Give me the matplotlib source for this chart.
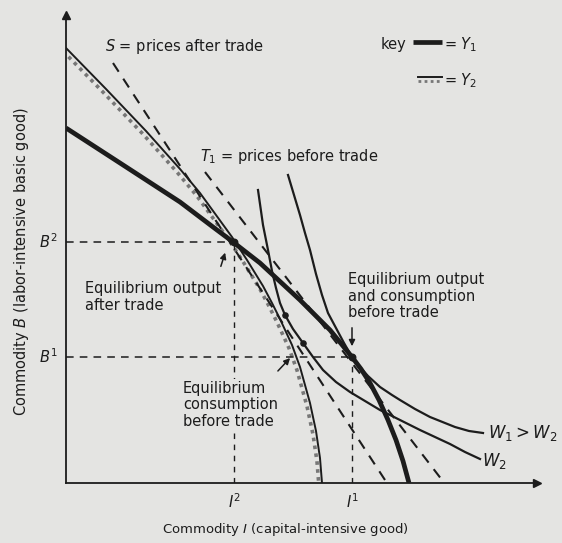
import matplotlib
matplotlib.use("Agg")
import matplotlib.pyplot as plt
import matplotlib.transforms as mtransforms

# 曲线数据
# Y1 生产可能性曲线（粗线）
y1_x = [0, 5.4, 11.4, 14.7, 16.7, 19.4, 23.4, 26.4, 28.6, 29.5, 30.4, 31.3, 32.2, 33.0, 33.7, 34.3]
y1_y = [35.5, 32.0, 28.1, 25.6, 24.1, 22.0, 18.3, 15.3, 12.6, 11.4, 10.0, 8.3, 6.3, 4.3, 2.2, 0]

# Y2 生产可能性曲线（细线 + 点）
y2_x = [0, 4.0, 8.0, 11.4, 13.4, 15.0, 16.6, 18.1, 19.7, 20.6, 21.4, 22.6, 23.4, 24.4, 25.0, 25.4, 25.6]
y2_y = [43.5, 39.4, 35.2, 31.4, 29.0, 26.8, 24.6, 22.3, 19.7, 18.0, 16.4, 13.8, 11.6, 8.0, 5.2, 2.5, 0]

# 无差异曲线
w1_x = [22.2, 22.8, 23.4, 23.9, 24.4, 25.0, 25.6, 26.2, 27.0, 27.8, 28.6, 29.3, 30.2, 31.4,
        32.6, 33.4, 34.9, 36.4, 38.9, 40.3, 41.7]
w1_y = [30.8, 28.8, 26.8, 25.0, 23.3, 20.9, 18.8, 17.0, 15.5, 14.0, 12.6, 11.7, 10.7, 9.6,
        8.8, 8.3, 7.4, 6.6, 5.6, 5.2, 5.0]
w2_x = [19.2, 19.7, 20.2, 20.6, 21.0, 21.4, 21.9, 22.7, 23.7, 24.7, 25.7, 27.0, 28.4, 29.9,
        31.4, 33.4, 35.4, 36.9, 38.4, 39.9, 41.4]
w2_y = [29.3, 25.8, 23.3, 21.2, 19.5, 18.0, 16.8, 15.4, 14.0, 12.6, 11.3, 10.1, 9.1, 8.2,
        7.3, 6.3, 5.3, 4.6, 3.9, 3.1, 2.4]

# 价格线
s_x = [4.7, 31.9]
s_y = [42.0, 0.3]
t1_x = [13.9, 37.6]
t1_y = [31.1, 0.3]

# 均衡点
b1, b2 = 12.6, 24.1
i1, i2 = 28.6, 16.8
dots_x = [21.9, 23.7]
dots_y = [16.8, 14.0]

bg = "#e4e4e2"
ink = "#1c1c1c"

fig = plt.figure(figsize=(5.62, 5.43), dpi=100, facecolor=bg)
ax = fig.add_axes([66 / 562, 60 / 543, (537 - 66) / 562, (483 - 15) / 543])
ax.set_facecolor(bg)
ax.set_xlim(0, 47.1)
ax.set_ylim(0, 46.8)

# 坐标轴
for side in ["top", "right"]:
    ax.spines[side].set_visible(False)
for side in ["left", "bottom"]:
    ax.spines[side].set_linewidth(1.3)
    ax.spines[side].set_color(ink)
ax.set_xticks([])
ax.set_yticks([])
ax.plot(1, 0, ">", color=ink, ms=6, transform=ax.get_yaxis_transform(), clip_on=False)
ax.plot(0, 1, "^", color=ink, ms=6, transform=ax.get_xaxis_transform(), clip_on=False)

# Y2 的点状阴影
shade = mtransforms.offset_copy(ax.transData, fig=fig, x=-2.2, y=-2.2, units="points")
ax.plot(y2_x, y2_y, ls=(0, (1, 1.2)), color="#777777", lw=2.6, transform=shade)
ax.plot(y2_x, y2_y, color=ink, lw=1.4)
ax.plot(y1_x, y1_y, color=ink, lw=3.4, solid_capstyle="butt")

ax.plot(w1_x, w1_y, color=ink, lw=1.6)
ax.plot(w2_x, w2_y, color=ink, lw=1.6)

ax.plot(s_x, s_y, color=ink, lw=1.5, ls=(0, (5, 4)))
ax.plot(t1_x, t1_y, color=ink, lw=1.5, ls=(0, (5, 4)))

# 参考虚线
ax.plot([0, i2], [b2, b2], color=ink, lw=1.1, ls=(0, (5, 4)))
ax.plot([i2, i2], [0, b2], color=ink, lw=1.0, ls=(0, (4, 4)))
ax.plot([0, i1], [b1, b1], color=ink, lw=1.1, ls=(0, (5, 4)))
ax.plot([i1, i1], [0, b1], color=ink, lw=1.0, ls=(0, (4, 4)))

ax.scatter([i2, i1], [b2, b1], s=22, color=ink, zorder=5)
ax.scatter(dots_x, dots_y, s=14, color=ink, zorder=5)

fs = 10.5
tkw = dict(color=ink, fontsize=fs, clip_on=False)

ax.text(3.9, 43.6, "$S$ = prices after trade", ha="left", va="center", **tkw)
ax.text(13.4, 32.6, "$T_1$ = prices before trade", ha="left", va="center", **tkw)

# 图例
ax.text(31.5, 43.8, "key", ha="left", va="center", **tkw)
ax.plot([34.7, 37.6], [44.1, 44.1], color=ink, lw=3.4, solid_capstyle="butt")
ax.text(37.8, 43.8, "= $Y_1$", ha="left", va="center", **tkw)
ax.plot([35.2, 37.6], [40.6, 40.6], color=ink, lw=1.4)
ax.plot([35.2, 37.6], [40.2, 40.2], ls=(0, (1, 1.2)), color="#777777", lw=2.0)
ax.text(37.8, 40.2, "= $Y_2$", ha="left", va="center", **tkw)

ax.text(1.9, 18.6, "Equilibrium output\nafter trade", ha="left", va="center",
        linespacing=1.1, **tkw)
ax.annotate("", xy=(16.0, 23.3), xytext=(15.4, 21.4),
            arrowprops=dict(arrowstyle="-|>", color=ink, lw=1.1, mutation_scale=9))

ax.text(28.2, 18.7, "Equilibrium output\nand consumption\nbefore trade", ha="left",
        va="center", linespacing=1.1, **tkw)
ax.annotate("", xy=(28.6, 13.4), xytext=(28.6, 15.8),
            arrowprops=dict(arrowstyle="-|>", color=ink, lw=1.1, mutation_scale=9))

ax.text(11.7, 7.8, "Equilibrium\nconsumption\nbefore trade", ha="left", va="center",
        linespacing=1.15, bbox=dict(facecolor=bg, edgecolor="none", pad=1), **tkw)
ax.annotate("", xy=(22.6, 12.7), xytext=(21.0, 11.0),
            arrowprops=dict(arrowstyle="-|>", color=ink, lw=1.1, mutation_scale=9))

ax.text(42.2, 5.0, "$W_1 > W_2$", ha="left", va="center", color=ink, fontsize=12, clip_on=False)
ax.text(41.6, 2.2, "$W_2$", ha="left", va="center", color=ink, fontsize=12, clip_on=False)

ax.text(-0.8, b2, "$B^2$", ha="right", va="center", **tkw)
ax.text(-0.8, b1, "$B^1$", ha="right", va="center", **tkw)
ax.text(i2, -1.9, "$I^2$", ha="center", va="center", **tkw)
ax.text(i1, -1.9, "$I^1$", ha="center", va="center", **tkw)

ax.text(21.9, -4.7, "Commodity $I$ (capital-intensive good)", ha="center", va="center",
        color=ink, fontsize=9.5, clip_on=False)
ax.text(-4.4, 22.1, "Commodity $B$ (labor-intensive basic good)", ha="center", va="center",
        rotation=90, **tkw)

fig.savefig("out.png", dpi=100, facecolor=bg)
